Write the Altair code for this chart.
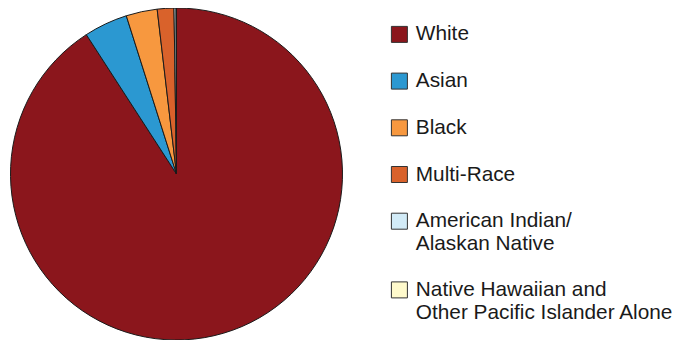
import altair as alt
import pandas as pd

categories = ["White", "Asian", "Black", "Multi-Race",
              "American Indian/\nAlaskan Native",
              "Native Hawaiian and\nOther Pacific Islander Alone"]
shares = [90.86, 4.25, 3.03, 1.62, 0.20, 0.04]
colors = ["#8B161C", "#2B98D1", "#F7983F", "#D9622B", "#D2EBF7", "#FFFACC"]

df = pd.DataFrame({"race": categories, "share": shares,
                   "rank": list(range(len(categories)))})

chart = alt.Chart(df).mark_arc(stroke="#1a1a1a", strokeWidth=1).encode(
    theta=alt.Theta("share:Q", stack=True),
    order=alt.Order("rank:Q"),
    color=alt.Color(
        "race:N",
        scale=alt.Scale(domain=categories, range=colors),
        sort=categories,
        legend=alt.Legend(
            title=None,
            orient="none",
            legendX=381,
            legendY=16,
            symbolType="square",
            symbolSize=256,
            symbolStrokeColor="#333333",
            symbolStrokeWidth=1,
            labelFont="Liberation Sans",
            labelFontSize=20.8,
            labelColor="#1a1a1a",
            labelOffset=6,
            labelLimit=400,
            rowPadding=24.7,
            padding=0,
            labelExpr="split(datum.label, '\\n')",
        ),
    ),
).properties(
    width=337,
    height=332,
    autosize=alt.AutoSizeParams(type="none"),
    padding={"left": 0, "top": 0, "right": 328, "bottom": 0},
).configure_view(stroke=None)

chart.save("out.html", embed_options={"renderer": "svg", "actions": False})
